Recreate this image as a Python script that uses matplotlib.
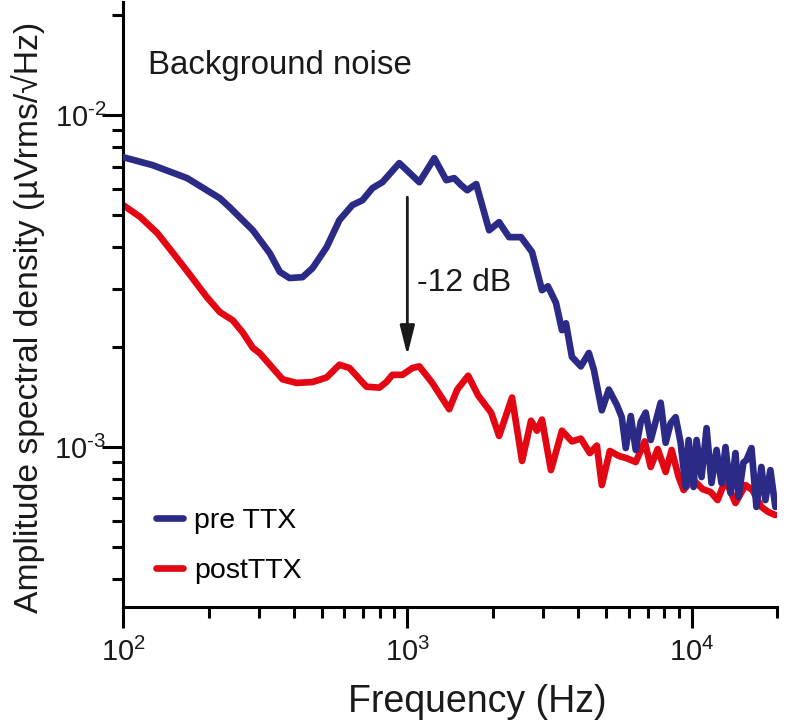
import matplotlib
matplotlib.use("Agg")
import matplotlib.pyplot as plt
from matplotlib import ticker
import numpy as np

plt.rcParams["font.family"] = ["Liberation Sans", "DejaVu Sans"]
plt.rcParams["mathtext.fontset"] = "custom"
plt.rcParams["mathtext.rm"] = "Liberation Sans"
plt.rcParams["mathtext.it"] = "Liberation Sans"
plt.rcParams["mathtext.bf"] = "Liberation Sans"

# pre TTX spectrum (Hz, uVrms/sqrt(Hz))
pre_freq = [100, 127, 168, 219, 237, 286, 328, 356, 385, 428, 464, 520, 577, 641,
            695, 754, 817, 937, 1102, 1244, 1371, 1462, 1547, 1624, 1747, 1940,
            2103, 2280, 2512, 2746, 2976, 3123, 3333, 3499, 3614, 3793, 4078,
            4351, 4531, 4833, 5114, 5457, 5681, 5867, 6109, 6361, 6624, 6895,
            7181, 7785, 8105, 8440, 8788, 9150, 9526, 9760, 10160, 10410, 10840,
            11290, 11750, 12240, 12740, 13160, 13710, 14270, 14620, 15220, 15600,
            16240, 16910, 17600, 18180, 18930, 19710]
pre_asd = [7.47e-3, 7.07e-3, 6.46e-3, 5.62e-3, 5.28e-3, 4.50e-3, 3.84e-3, 3.37e-3,
           3.23e-3, 3.25e-3, 3.46e-3, 4.00e-3, 4.83e-3, 5.36e-3, 5.54e-3, 6.03e-3,
           6.28e-3, 7.17e-3, 6.28e-3, 7.42e-3, 6.37e-3, 6.46e-3, 6.15e-3, 5.94e-3,
           6.20e-3, 4.50e-3, 4.76e-3, 4.29e-3, 4.29e-3, 3.87e-3, 2.97e-3, 3.05e-3,
           2.72e-3, 2.25e-3, 2.36e-3, 1.87e-3, 1.75e-3, 1.92e-3, 1.71e-3, 1.29e-3,
           1.49e-3, 1.34e-3, 1.23e-3, 9.93e-4, 1.24e-3, 9.80e-4, 1.19e-3, 1.27e-3,
           1.05e-3, 1.36e-3, 1.03e-3, 1.18e-3, 1.23e-3, 1.03e-3, 7.58e-4, 1.05e-3,
           7.58e-4, 1.05e-3, 8.12e-4, 1.14e-3, 7.79e-4, 9.80e-4, 7.79e-4, 1.00e-3,
           7.27e-4, 9.59e-4, 7.07e-4, 8.98e-4, 9.14e-4, 9.93e-4, 6.60e-4, 8.71e-4,
           6.92e-4, 8.52e-4, 6.60e-4]

# post TTX spectrum
post_freq = [100, 115, 132, 150, 172, 197, 219, 243, 264, 286, 302, 336, 364, 408,
             464, 520, 577, 626, 718, 798, 844, 886, 961, 1041, 1102, 1224, 1404,
             1498, 1637, 1775, 1971, 2103, 2335, 2533, 2723, 2858, 2976, 3200,
             3499, 3793, 4078, 4386, 4642, 4833, 5156, 5545, 5914, 6361, 6840,
             7181, 7599, 8105, 8507, 9004, 9374, 10080, 10930, 11660, 12340,
             13160, 14270, 15470, 16370, 17600, 18630, 19710]
post_asd = [5.36e-3, 4.93e-3, 4.41e-3, 3.84e-3, 3.30e-3, 2.83e-3, 2.55e-3, 2.41e-3,
            2.21e-3, 1.99e-3, 1.92e-3, 1.73e-3, 1.60e-3, 1.56e-3, 1.57e-3, 1.62e-3,
            1.77e-3, 1.73e-3, 1.52e-3, 1.51e-3, 1.57e-3, 1.65e-3, 1.65e-3, 1.73e-3,
            1.75e-3, 1.56e-3, 1.30e-3, 1.49e-3, 1.64e-3, 1.43e-3, 1.27e-3, 1.08e-3,
            1.41e-3, 9.08e-4, 1.20e-3, 1.12e-3, 1.21e-3, 8.52e-4, 1.12e-3, 1.04e-3,
            1.06e-3, 9.59e-4, 1.01e-3, 7.68e-4, 9.73e-4, 9.40e-4, 9.25e-4, 9.01e-4,
            1.04e-3, 8.71e-4, 9.86e-4, 8.41e-4, 9.80e-4, 8.12e-4, 7.42e-4, 8.01e-4,
            7.47e-4, 7.32e-4, 6.92e-4, 7.96e-4, 6.78e-4, 7.68e-4, 7.42e-4, 6.60e-4,
            6.37e-4, 6.24e-4]

# arrow marking the drop at 1 kHz
arrow_freq = 1000
arrow_from = 5.66e-3
arrow_to = 1.89e-3

BLUE = "#2b2a86"
RED = "#e30613"
INK = "#1a1a1a"


def pow10_label(v, pos):
    e = int(round(np.log10(v)))
    if e < 0:
        return r"$10^{\text{-}%d}$" % (-e)
    return r"$10^{%d}$" % e


fig = plt.figure(figsize=(7.89, 7.25), dpi=100)
ax = fig.add_axes([0.156, 0.163, 0.829, 0.834])

l_post, = ax.plot(post_freq, post_asd, color=RED, lw=4.8, solid_joinstyle="round",
                  solid_capstyle="round", label="postTTX", zorder=2)
l_pre, = ax.plot(pre_freq, pre_asd, color=BLUE, lw=4.8, solid_joinstyle="round",
                 solid_capstyle="round", label="pre TTX", zorder=3)

ax.set_xscale("log")
ax.set_yscale("log")
ax.set_xlim(100, 20000)
ax.set_ylim(3.3e-4, 2.19e-2)

for side in ["top", "right"]:
    ax.spines[side].set_visible(False)
for side in ["left", "bottom"]:
    ax.spines[side].set_linewidth(2.2)

ax.xaxis.set_major_formatter(ticker.FuncFormatter(pow10_label))
ax.yaxis.set_major_formatter(ticker.FuncFormatter(pow10_label))
ax.xaxis.set_minor_formatter(ticker.NullFormatter())
ax.yaxis.set_minor_formatter(ticker.NullFormatter())

ax.tick_params(which="major", length=15, width=2.2, labelsize=21, direction="out",
               labelcolor=INK)
ax.tick_params(which="minor", length=8, width=2.2, direction="out")
ax.tick_params(axis="x", which="major", pad=7)
ax.tick_params(axis="y", which="major", pad=-3)

ax.set_xlabel("Frequency (Hz)", fontsize=27, color=INK)
ax.set_ylabel("Amplitude spectral density (µVrms/√Hz)", fontsize=24.3, color=INK)
ax.xaxis.set_label_coords(0.541, -0.128)
ax.yaxis.set_label_coords(-0.119, 0.478)

ax.annotate("", xy=(arrow_freq, arrow_to), xytext=(arrow_freq, arrow_from),
            arrowprops=dict(arrowstyle="-|>,head_length=1.8,head_width=0.45",
                            mutation_scale=10, lw=2, color=INK,
                            shrinkA=0, shrinkB=0))
ax.text(1084, 3.12e-3, "-12 dB", fontsize=23, ha="left", va="center", color=INK)
ax.text(0.038, 0.895, "Background noise", fontsize=23.8, transform=ax.transAxes,
        ha="left", va="center", color=INK)

ax.legend(handles=[l_pre, l_post], loc="lower left", bbox_to_anchor=(0.05, 0.038),
          frameon=False, fontsize=20.5, handlelength=0.95, handletextpad=0.4,
          labelspacing=0.85, borderpad=0, borderaxespad=0)

fig.savefig("out.png", dpi=100)
